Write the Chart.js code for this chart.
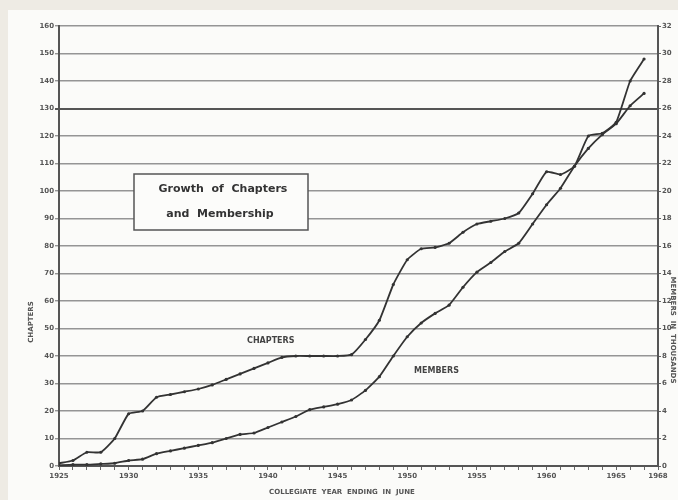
<!DOCTYPE html>
<html>
<head>
<meta charset="utf-8">
<script src="https://cdn.jsdelivr.net/npm/chart.js@4.4.1/dist/chart.umd.min.js"></script>
<style>
  html, body { margin: 0; padding: 0; background: #eeebe4; }
  #wrap { position: relative; width: 678px; height: 500px; }
  #paper { position: absolute; left: 8px; top: 10px; width: 670px; height: 490px; background: #fbfbf9; }
  canvas { position: absolute; left: 0; top: 0; }
</style>
</head>
<body>
<div id="wrap">
  <div id="paper"></div>
  <canvas id="grafico" width="678" height="500"></canvas>
</div>
<script>
// Anos (ano colegial terminando em junho)
const anos = [1925, 1926, 1927, 1928, 1929, 1930, 1931, 1932, 1933, 1934,
              1935, 1936, 1937, 1938, 1939, 1940, 1941, 1942, 1943, 1944,
              1945, 1946, 1947, 1948, 1949, 1950, 1951, 1952, 1953, 1954,
              1955, 1956, 1957, 1958, 1959, 1960, 1961, 1962, 1963, 1964,
              1965, 1966, 1967];

// Número de capítulos (eixo esquerdo)
const capitulos = [1, 2, 5, 5, 10, 19, 20, 25, 26, 27,
                   28, 29.5, 31.5, 33.5, 35.5, 37.5, 39.5, 40, 40, 40,
                   40, 40.5, 46, 53, 66, 75, 79, 79.5, 81, 85,
                   88, 89, 90, 92, 99, 107, 106, 109, 120, 121,
                   125, 140, 148];

// Membros em milhares (eixo direito)
const membros = [0.05, 0.1, 0.1, 0.15, 0.2, 0.4, 0.5, 0.9, 1.1, 1.3,
                 1.5, 1.7, 2.0, 2.3, 2.4, 2.8, 3.2, 3.6, 4.1, 4.3,
                 4.5, 4.8, 5.5, 6.5, 8.0, 9.4, 10.4, 11.1, 11.7, 13.0,
                 14.1, 14.8, 15.6, 16.2, 17.6, 19.0, 20.2, 21.8, 23.1, 24.1,
                 24.9, 26.2, 27.1];

// Rótulos dos eixos
const rotulosAnos = [1925, 1930, 1935, 1940, 1945, 1950, 1955, 1960, 1965, 1968];
const ticksCapitulos = [0, 10, 20, 30, 40, 50, 60, 70, 80, 90, 100, 110, 120, 130, 140, 150, 160];
const ticksMembros = [0, 2, 4, 6, 8, 10, 12, 14, 16, 18, 20, 22, 24, 26, 28, 30, 32];

const corLinha = '#333333';
const corGrade = '#959595';
const corTexto = '#4a4a4a';

// Textos desenhados sobre o gráfico
const anotacoes = {
  id: 'anotacoes',
  afterDraw(chart) {
    const ctx = chart.ctx;
    const x = chart.scales.x;
    const y = chart.scales.y;
    ctx.save();
    ctx.textAlign = 'center';
    ctx.textBaseline = 'middle';

    // caixa do título
    ctx.fillStyle = '#fcfcfa';
    ctx.fillRect(134, 174, 174, 56);
    ctx.strokeStyle = '#555';
    ctx.lineWidth = 1.5;
    ctx.strokeRect(134, 174, 174, 56);
    ctx.fillStyle = '#333';
    ctx.font = '600 11px "DejaVu Sans"';
    ctx.fillText('Growth  of  Chapters', 223, 189);
    ctx.fillText('and  Membership', 220, 214);

    // nomes das séries
    ctx.font = 'bold 8px "DejaVu Sans"';
    ctx.fillStyle = '#444';
    ctx.fillText('CHAPTERS', x.getPixelForValue(1940.2), y.getPixelForValue(45.5));
    ctx.fillText('MEMBERS', x.getPixelForValue(1952.1), y.getPixelForValue(34.7));

    // título do eixo x
    ctx.font = 'bold 7px "DejaVu Sans"';
    ctx.fillStyle = '#555';
    ctx.fillText('COLLEGIATE  YEAR  ENDING  IN  JUNE', 342, 492);

    // título do eixo esquerdo
    ctx.save();
    ctx.translate(31, 322);
    ctx.rotate(-Math.PI / 2);
    ctx.fillText('CHAPTERS', 0, 0);
    ctx.restore();

    // título do eixo direito
    ctx.save();
    ctx.translate(673, 330);
    ctx.rotate(Math.PI / 2);
    ctx.fillText('MEMBERS  IN  THOUSANDS', 0, 0);
    ctx.restore();

    ctx.restore();
  }
};

const ctx = document.getElementById('grafico').getContext('2d');
new Chart(ctx, {
  type: 'line',
  data: {
    datasets: [
      {
        label: 'Chapters',
        data: anos.map((a, i) => ({ x: a, y: capitulos[i] })),
        borderColor: corLinha,
        borderWidth: 1.8,
        pointRadius: 1.6,
        pointBackgroundColor: corLinha,
        pointBorderWidth: 0,
        tension: 0.15,
        yAxisID: 'y'
      },
      {
        label: 'Members',
        data: anos.map((a, i) => ({ x: a, y: membros[i] })),
        borderColor: corLinha,
        borderWidth: 1.8,
        pointRadius: 1.6,
        pointBackgroundColor: corLinha,
        pointBorderWidth: 0,
        tension: 0.15,
        yAxisID: 'y2'
      }
    ]
  },
  options: {
    responsive: false,
    animation: false,
    layout: { padding: { top: 26, left: 0, right: 0, bottom: 0 } },
    plugins: {
      legend: { display: false },
      tooltip: { enabled: false }
    },
    scales: {
      x: {
        type: 'linear',
        min: 1925,
        max: 1968,
        afterBuildTicks: (eixo) => {
          const t = [];
          for (let a = 1925; a <= 1968; a++) t.push({ value: a });
          eixo.ticks = t;
        },
        afterFit: (eixo) => { eixo.height = 34; },
        ticks: {
          autoSkip: false,
          maxRotation: 0,
          padding: 2,
          color: '#555',
          font: { size: 7, weight: 'bold', family: 'DejaVu Sans' },
          callback: (v) => rotulosAnos.includes(v) ? String(v) : ''
        },
        grid: { drawOnChartArea: false, tickLength: 4, color: '#666', lineWidth: 1 },
        border: { color: '#555', width: 2 }
      },
      y: {
        position: 'left',
        min: 0,
        max: 160,
        afterBuildTicks: (eixo) => { eixo.ticks = ticksCapitulos.map(v => ({ value: v })); },
        afterFit: (eixo) => { eixo.width = 59; },
        ticks: {
          padding: 1,
          color: '#555',
          font: { size: 7, weight: 'bold', family: 'DejaVu Sans' }
        },
        grid: {
          color: (c) => c.tick && c.tick.value === 130 ? '#555' : corGrade,
          lineWidth: (c) => c.tick && c.tick.value === 130 ? 2 : 1.4,
          tickLength: 4
        },
        border: { color: '#555', width: 2 }
      },
      y2: {
        position: 'right',
        min: 0,
        max: 32,
        afterBuildTicks: (eixo) => { eixo.ticks = ticksMembros.map(v => ({ value: v })); },
        afterFit: (eixo) => { eixo.width = 20; },
        ticks: {
          padding: 1,
          color: '#555',
          font: { size: 7, weight: 'bold', family: 'DejaVu Sans' }
        },
        grid: { drawOnChartArea: false, tickLength: 3, color: '#666' },
        border: { color: '#555', width: 2 }
      }
    }
  },
  plugins: [anotacoes]
});
</script>
</body>
</html>
